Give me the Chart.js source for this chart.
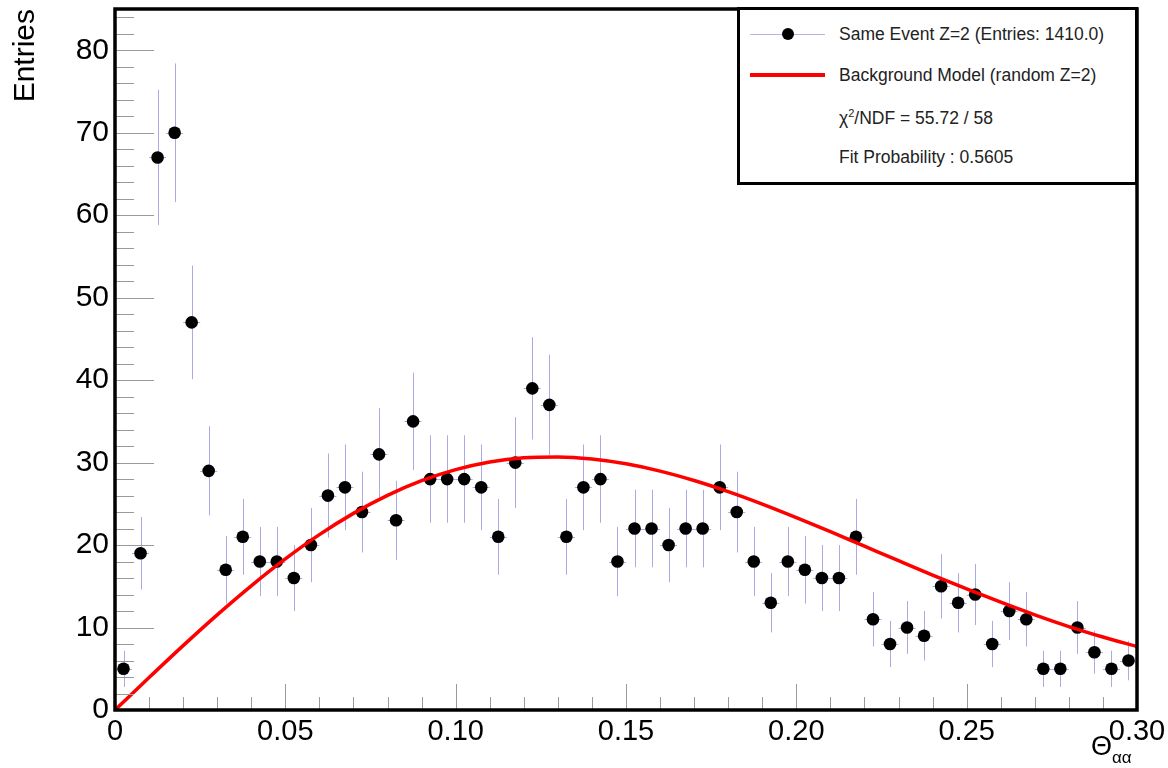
<!DOCTYPE html>
<html>
<head>
<meta charset="utf-8">
<title>Theta alpha-alpha</title>
<script src="https://cdn.jsdelivr.net/npm/chart.js@4.4.1/dist/chart.umd.min.js"></script>
<style>
  body { margin: 0; background: #fff; }
  #wrap { position: relative; width: 1168px; height: 768px; font-family: "Liberation Sans", Arial, sans-serif; }
  #legend { position: absolute; left: 737px; top: 7px; width: 401px; height: 178px; box-sizing: border-box; border: 3px solid #000; background: #fff; }
  .row { position: absolute; left: 99px; font-size: 17.5px; color: #222; line-height: 20px; white-space: nowrap; }
  .row sup { font-size: 11px; vertical-align: 7px; line-height: 0; }
  #markLine { position: absolute; left: 10px; top: 24px; width: 75px; height: 1px; background: #b4b4ea; }
  #markDot { position: absolute; left: 42px; top: 18px; width: 12px; height: 12px; border-radius: 50%; background: #000; }
  #fitLine { position: absolute; left: 10px; top: 63px; width: 75px; height: 4px; background: #ff0000; }
  #xtitle { position: absolute; left: 1091px; top: 731px; font-size: 27px; color: #000; white-space: nowrap; }
  #xtitle sub { font-size: 17px; vertical-align: -8px; line-height: 0; }
</style>
</head>
<body>
<div id="wrap">
  <canvas id="thetaChart" width="1168" height="768"></canvas>
  <div id="legend">
    <div id="markLine"></div>
    <div id="markDot"></div>
    <div class="row" style="top:14px">Same Event Z=2 (Entries: 1410.0)</div>
    <div id="fitLine"></div>
    <div class="row" style="top:55px">Background Model (random Z=2)</div>
    <div class="row" style="top:98px">&chi;<sup>2</sup>/NDF = 55.72 / 58</div>
    <div class="row" style="top:137px">Fit Probability : 0.5605</div>
  </div>
  <div id="xtitle">&Theta;<sub>&alpha;&alpha;</sub></div>
</div>
<script>
// histogram bins (centres), counts and their errors
var binCenters = [
  0.0025, 0.0075, 0.0125, 0.0175, 0.0225, 0.0275, 0.0325, 0.0375, 0.0425, 0.0475,
  0.0525, 0.0575, 0.0625, 0.0675, 0.0725, 0.0775, 0.0825, 0.0875, 0.0925, 0.0975,
  0.1025, 0.1075, 0.1125, 0.1175, 0.1225, 0.1275, 0.1325, 0.1375, 0.1425, 0.1475,
  0.1525, 0.1575, 0.1625, 0.1675, 0.1725, 0.1775, 0.1825, 0.1875, 0.1925, 0.1975,
  0.2025, 0.2075, 0.2125, 0.2175, 0.2225, 0.2275, 0.2325, 0.2375, 0.2425, 0.2475,
  0.2525, 0.2575, 0.2625, 0.2675, 0.2725, 0.2775, 0.2825, 0.2875, 0.2925, 0.2975
];
var counts = [
  5, 19, 67, 70, 47, 29, 17, 21, 18, 18,
  16, 20, 26, 27, 24, 31, 23, 35, 28, 28,
  28, 27, 21, 30, 39, 37, 21, 27, 28, 18,
  22, 22, 20, 22, 22, 27, 24, 18, 13, 18,
  17, 16, 16, 21, 11, 8, 10, 9, 15, 13,
  14, 8, 12, 11, 5, 5, 10, 7, 5, 6
];
var countErrors = [
  2.2, 4.4, 8.2, 8.4, 6.9, 5.4, 4.1, 4.6, 4.2, 4.2,
  4.0, 4.5, 5.1, 5.2, 4.9, 5.6, 4.8, 5.9, 5.3, 5.3,
  5.3, 5.2, 4.6, 5.5, 6.2, 6.1, 4.6, 5.2, 5.3, 4.2,
  4.7, 4.7, 4.5, 4.7, 4.7, 5.2, 4.9, 4.2, 3.6, 4.2,
  4.1, 4.0, 4.0, 4.6, 3.3, 2.8, 3.2, 3.0, 3.9, 3.6,
  3.7, 2.8, 3.5, 3.3, 2.2, 2.2, 3.2, 2.6, 2.2, 2.4
];
var binHalfWidth = 0.0025;

// background model curve
var modelX = [0, 0.01, 0.02, 0.03, 0.04, 0.05, 0.06, 0.07, 0.08, 0.09, 0.10,
  0.11, 0.12, 0.13, 0.14, 0.15, 0.16, 0.17, 0.18, 0.19, 0.20,
  0.21, 0.22, 0.23, 0.24, 0.25, 0.26, 0.27, 0.28, 0.29, 0.30];
var modelY = [0, 3.94, 7.81, 11.54, 15.06, 18.32, 21.26, 23.84, 26.02, 27.80, 29.14,
  30.07, 30.58, 30.69, 30.44, 29.85, 28.97, 27.83, 26.48, 24.97, 23.33,
  21.62, 19.86, 18.10, 16.36, 14.68, 13.07, 11.54, 10.12, 8.85, 7.70];

var xTickLabels = ["0", "0.05", "0.10", "0.15", "0.20", "0.25", "0.30"];

var histPoints = binCenters.map(function (x, i) { return { x: x, y: counts[i] }; });
var modelPoints = modelX.map(function (x, i) { return { x: x, y: modelY[i] }; });

// error bars under the markers, ticks and frame on top
var rootStyle = {
  id: "rootStyle",
  beforeDatasetsDraw: function (chart) {
    var ctx = chart.ctx;
    var xs = chart.scales.x, ys = chart.scales.y;
    ctx.save();
    ctx.strokeStyle = "#aaaae6";
    ctx.lineWidth = 1;
    ctx.beginPath();
    for (var i = 0; i < binCenters.length; i++) {
      var px = Math.round(xs.getPixelForValue(binCenters[i])) + 0.5;
      var py = Math.round(ys.getPixelForValue(counts[i])) + 0.5;
      ctx.moveTo(px, ys.getPixelForValue(counts[i] + countErrors[i]));
      ctx.lineTo(px, ys.getPixelForValue(counts[i] - countErrors[i]));
      ctx.moveTo(xs.getPixelForValue(binCenters[i] - binHalfWidth), py);
      ctx.lineTo(xs.getPixelForValue(binCenters[i] + binHalfWidth), py);
    }
    ctx.stroke();
    ctx.restore();
  },
  afterDraw: function (chart) {
    var ctx = chart.ctx;
    var a = chart.chartArea;
    var xs = chart.scales.x, ys = chart.scales.y;
    ctx.save();
    ctx.strokeStyle = "#9a9a9a";
    ctx.lineWidth = 1;
    ctx.beginPath();
    for (var i = 1; i < 30; i++) {
      var px = Math.round(xs.getPixelForValue(i / 100)) + 0.5;
      var len = (i % 5 === 0) ? 26 : 13;
      ctx.moveTo(px, a.bottom);
      ctx.lineTo(px, a.bottom - len);
    }
    for (var v = 2; v <= 84; v += 2) {
      var py = Math.round(ys.getPixelForValue(v)) + 0.5;
      var l = (v % 10 === 0) ? 39 : 19;
      ctx.moveTo(a.left, py);
      ctx.lineTo(a.left + l, py);
    }
    ctx.stroke();
    ctx.strokeStyle = "#000";
    ctx.lineWidth = 3.5;
    ctx.strokeRect(a.left, a.top, a.right - a.left, a.bottom - a.top);
    ctx.restore();
  }
};

Chart.defaults.font.family = '"Liberation Sans", Arial, sans-serif';
Chart.defaults.color = "#000";

var thetaChart = new Chart(document.querySelector("#thetaChart"), {
  type: "scatter",
  data: {
    datasets: [
      {
        type: "line",
        label: "Background Model (random Z=2)",
        data: modelPoints,
        borderColor: "#ff0000",
        borderWidth: 3.5,
        pointRadius: 0,
        cubicInterpolationMode: "monotone",
        fill: false,
        order: 0
      },
      {
        label: "Same Event Z=2",
        data: histPoints,
        pointRadius: 6.3,
        pointBackgroundColor: "#000",
        pointBorderWidth: 0,
        order: 1
      }
    ]
  },
  options: {
    responsive: false,
    animation: false,
    layout: { padding: { top: 9, right: 31, left: 0, bottom: 0 } },
    plugins: {
      legend: { display: false },
      tooltip: { enabled: false }
    },
    scales: {
      x: {
        type: "linear",
        min: 0,
        max: 0.3,
        grid: { display: false, drawTicks: false },
        border: { display: false },
        ticks: {
          stepSize: 0.05,
          autoSkip: false,
          maxRotation: 0,
          padding: 5,
          font: { size: 29 },
          callback: function (value, index) { return xTickLabels[index]; }
        },
        afterFit: function (s) {
          s.height = 58;
          s.paddingLeft = 0;
          s.paddingRight = 0;
        }
      },
      y: {
        min: 0,
        max: 85,
        grid: { display: false, drawTicks: false },
        border: { display: false },
        ticks: { stepSize: 10, includeBounds: false, padding: 6, font: { size: 30 } },
        title: {
          display: true,
          text: "Entries",
          align: "end",
          font: { size: 30 },
          padding: { top: 8, bottom: 0 }
        },
        afterFit: function (s) {
          s.width = 115;
          s.paddingTop = 0;
          s.paddingBottom = 0;
        }
      }
    }
  },
  plugins: [rootStyle]
});
</script>
</body>
</html>
